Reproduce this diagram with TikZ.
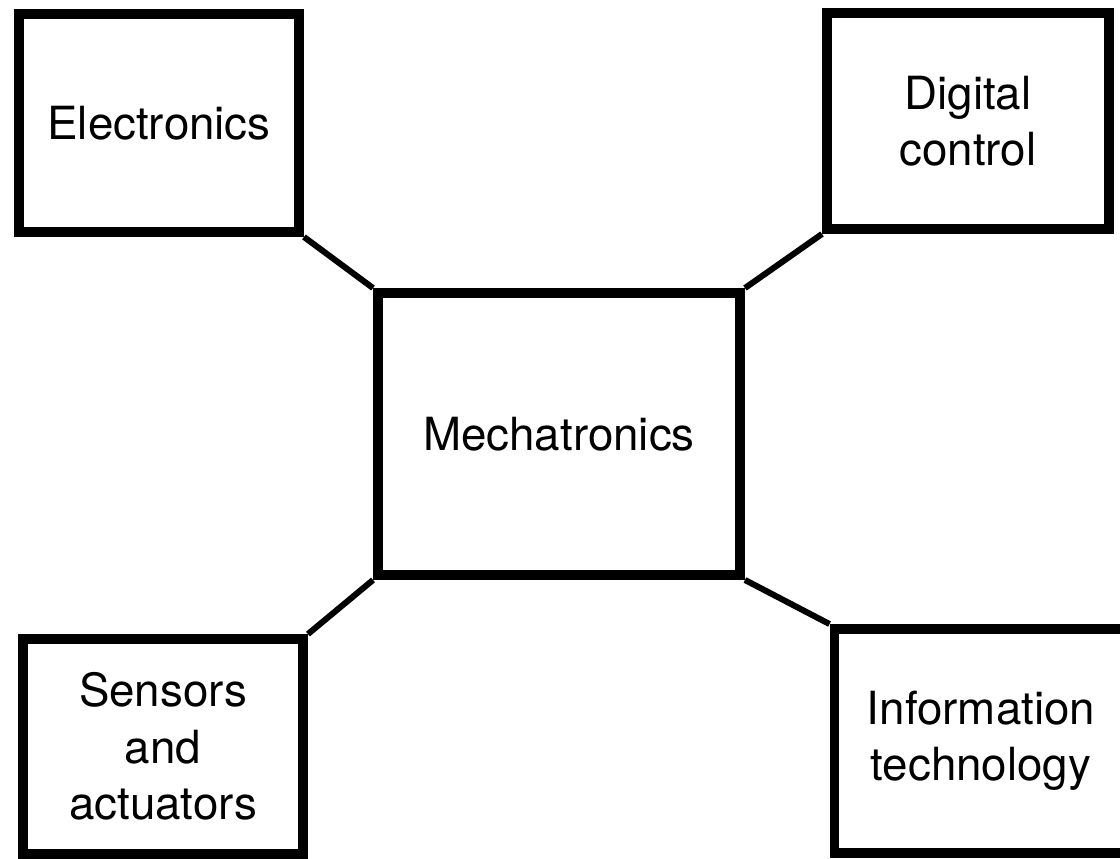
\documentclass[tikz,border=0pt]{standalone}
\usepackage{fontspec}
\setmainfont{TeX Gyre Heros}
\begin{document}
\begin{tikzpicture}[x=0.025cm,y=-0.025cm,every node/.style={rectangle,draw,line width=7pt,align=center,inner sep=0pt,font=\fontsize{32.5}{40}\selectfont}]
            \useasboundingbox (0,0) rectangle (1120,858);
            \node[minimum width=9.05cm,minimum height=7.05cm] (mech) at (559,434) {Mechatronics};
            \node[minimum width=7cm,minimum height=5.45cm] (elec) at (159,123) {Electronics};
            \node[minimum width=7.05cm,minimum height=5.4cm] (dig) at (968,121) {Digital\\control};
            \node[minimum width=7cm,minimum height=5.375cm] (sens) at (163,746.5) {Sensors\\and\\actuators};
            \node[minimum width=7.325cm,minimum height=5.6cm] (info) at (981,741) {Information\\technology};
            \path[draw,line width=4.3pt] (elec.south east) -- (mech.north west);
            \path[draw,line width=4.3pt] (dig.south west) -- (mech.north east);
            \path[draw,line width=4.3pt] (sens.north east) -- (mech.south west);
            \path[draw,line width=4.3pt] (info.north west) -- (mech.south east);
        \end{tikzpicture}
\end{document}
